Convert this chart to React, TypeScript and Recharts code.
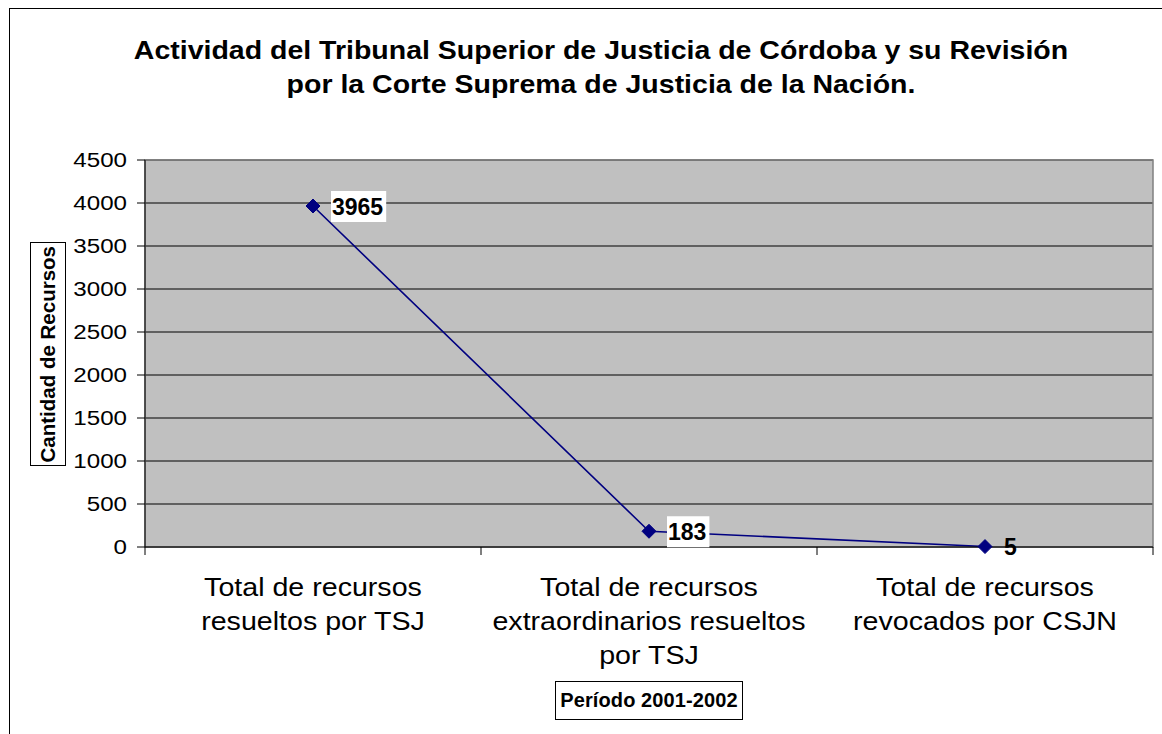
import React from "react";
import {
  LineChart,
  Line,
  XAxis,
  YAxis,
  CartesianGrid,
  LabelList,
  ReferenceArea,
} from "recharts";

const categories = [
  "Total de recursos\nresueltos por TSJ",
  "Total de recursos\nextraordinarios resueltos\npor TSJ",
  "Total de recursos\nrevocados por CSJN",
];
const recursos = [3965, 183, 5];
const yTicks = [0, 500, 1000, 1500, 2000, 2500, 3000, 3500, 4000, 4500];
const titleLines = [
  "Actividad del Tribunal Superior de Justicia de Córdoba y su Revisión",
  "por la Corte Suprema de Justicia de la Nación.",
];
const yTitle = "Cantidad de Recursos";
const xTitle = "Período 2001-2002";

const data = categories.map((name, i) => ({ name, value: recursos[i] }));

const FONT = "'Liberation Sans', Arial, Helvetica, sans-serif";

const Diamond = (props: any) => {
  const { cx, cy } = props;
  if (cx == null || cy == null) return null;
  const s = 7;
  return (
    <polygon
      points={`${cx},${cy - s} ${cx + s},${cy} ${cx},${cy + s} ${cx - s},${cy}`}
      fill="#000080"
      stroke="#000080"
    />
  );
};

const XTick = (props: any) => {
  const { x, y, payload, index, visibleTicksCount, width } = props;
  const lines = String(payload.value).split("\n");
  const half =
    payload && typeof payload.offset === "number" && payload.offset > 0
      ? payload.offset
      : width / (visibleTicksCount || 3) / 2;
  const axisY = y - 8;
  return (
    <g>
      <line x1={x - half} x2={x - half} y1={axisY} y2={axisY + 8} stroke="#000" />
      {index === visibleTicksCount - 1 && (
        <line x1={x + half} x2={x + half} y1={axisY} y2={axisY + 8} stroke="#000" />
      )}
      <g transform={`translate(${x},0) scale(1.1,1) translate(${-x},0)`}>
        <text
          x={x}
          y={y}
          textAnchor="middle"
          fontFamily={FONT}
          fontSize={26}
          fill="#000"
        >
          {lines.map((l, i) => (
            <tspan key={i} x={x} y={y + 41 + i * 34}>
              {l}
            </tspan>
          ))}
        </text>
      </g>
    </g>
  );
};

const YTick = (props: any) => {
  const { x, y, payload } = props;
  return (
    <g transform={`translate(${x},0) scale(1.15,1) translate(${-x},0)`}>
      <text
        x={x}
        y={y + 7}
        textAnchor="end"
        fontFamily={FONT}
        fontSize={21}
        fill="#000"
      >
        {payload.value}
      </text>
    </g>
  );
};

const ValueLabel = (props: any) => {
  const { x, y, value, index } = props;
  const txt = String(value);
  const w = txt.length * 12.8 + 4;
  return (
    <g>
      {index < 2 && (
        <rect x={x + 18} y={y - 15} width={w} height={31} fill="#fff" />
      )}
      <text
        x={x + 19}
        y={y + 8.5}
        fontFamily={FONT}
        fontSize={23}
        fontWeight="bold"
        fill="#000"
      >
        {txt}
      </text>
    </g>
  );
};

export default function App() {
  return (
    <div
      style={{
        position: "relative",
        width: 1162,
        height: 734,
        overflow: "hidden",
        background: "#fff",
        fontFamily: FONT,
      }}
    >
      <style>{`html,body{margin:0;padding:0;overflow:hidden;background:#fff}`}</style>
      <div
        style={{
          position: "absolute",
          left: 9,
          top: 8,
          width: 2000,
          height: 2000,
          border: "1px solid #000",
          boxSizing: "border-box",
        }}
      />
      <div
        style={{
          position: "absolute",
          left: 0,
          top: 0,
        }}
      >
        <LineChart
          width={1162}
          height={734}
          data={data}
          margin={{ top: 160, right: 9, bottom: 0, left: 0 }}
        >
          <CartesianGrid
            vertical={false}
            stroke="#000"
            strokeWidth={1}
            fill="#C0C0C0"
            fillOpacity={1}
          />
          <ReferenceArea
            y1={0}
            y2={4500}
            fill="none"
            stroke="#808080"
            strokeWidth={1.5}
            ifOverflow="visible"
          />
          <XAxis
            dataKey="name"
            scale="band"
            height={187}
            tickSize={8}
            tickMargin={0}
            tickLine={false}
            axisLine={{ stroke: "#000" }}
            interval={0}
            tick={<XTick />}
          />
          <YAxis
            width={145}
            domain={[0, 4500]}
            ticks={yTicks}
            tickSize={8}
            tickMargin={10}
            axisLine={{ stroke: "#000" }}
            tickLine={{ stroke: "#000" }}
            tick={<YTick />}
            interval={0}
          />
          <Line
            type="linear"
            dataKey="value"
            stroke="#000080"
            strokeWidth={1.6}
            dot={<Diamond />}
            activeDot={false}
            isAnimationActive={false}
          >
            <LabelList dataKey="value" content={<ValueLabel />} />
          </Line>
        </LineChart>
      </div>
      <div
        style={{
          position: "absolute",
          left: 0,
          width: 1202,
          top: 33,
          textAlign: "center",
          fontWeight: "bold",
          fontSize: 25,
          lineHeight: "34px",
          color: "#000",
          whiteSpace: "nowrap",
          transform: "scaleX(1.14)",
          transformOrigin: "601px 0",
        }}
      >
        {titleLines.map((t, i) => (
          <div key={i}>{t}</div>
        ))}
      </div>
      <div
        style={{
          position: "absolute",
          left: 30,
          top: 242,
          width: 36,
          height: 224,
          border: "1px solid #000",
          boxSizing: "border-box",
          background: "#fff",
          display: "flex",
          alignItems: "center",
          justifyContent: "center",
        }}
      >
        <div
          style={{
            writingMode: "vertical-rl",
            transform: "rotate(180deg) scaleX(1.0)",
            fontWeight: "bold",
            fontSize: 20.5,
            letterSpacing: 0,
            whiteSpace: "nowrap",
            color: "#000",
          }}
        >
          {yTitle}
        </div>
      </div>
      <div
        style={{
          position: "absolute",
          left: 555,
          top: 681,
          width: 188,
          height: 39,
          border: "1px solid #000",
          boxSizing: "border-box",
          background: "#fff",
          display: "flex",
          alignItems: "center",
          justifyContent: "center",
          fontWeight: "bold",
          fontSize: 20,
          letterSpacing: 0.1,
          whiteSpace: "nowrap",
          color: "#000",
        }}
      >
        {xTitle}
      </div>
    </div>
  );
}
